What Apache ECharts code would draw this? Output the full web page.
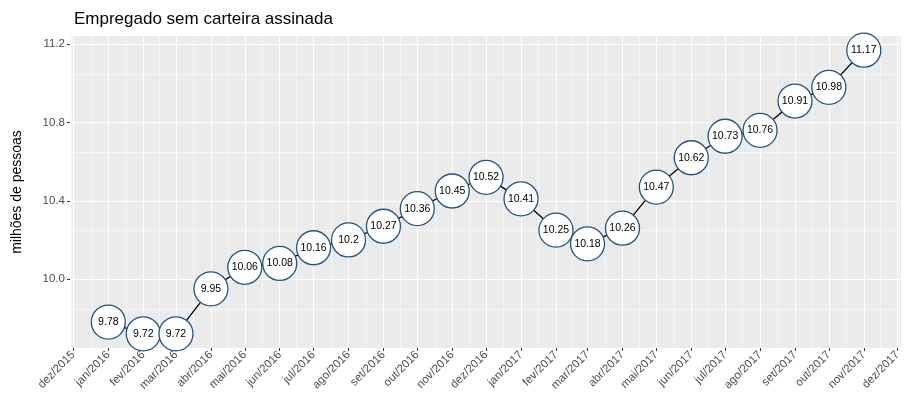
<!DOCTYPE html>
<html>
<head>
<meta charset="utf-8">
<script src="https://cdn.jsdelivr.net/npm/echarts@6/dist/echarts.min.js"></script>
<style>
  html, body { margin: 0; padding: 0; background: #fff; }
  #chart { width: 904px; height: 405px; }
</style>
</head>
<body>
<div id="chart"></div>
<script>
// ===== dados =====
const meses = ['2016-01-01', '2016-02-01', '2016-03-01', '2016-04-01', '2016-05-01', '2016-06-01',
  '2016-07-01', '2016-08-01', '2016-09-01', '2016-10-01', '2016-11-01', '2016-12-01',
  '2017-01-01', '2017-02-01', '2017-03-01', '2017-04-01', '2017-05-01', '2017-06-01',
  '2017-07-01', '2017-08-01', '2017-09-01', '2017-10-01', '2017-11-01'];
const valores = [9.78, 9.72, 9.72, 9.95, 10.06, 10.08, 10.16, 10.2, 10.27, 10.36, 10.45, 10.52,
  10.41, 10.25, 10.18, 10.26, 10.47, 10.62, 10.73, 10.76, 10.91, 10.98, 11.17];
const nomesMes = ['jan', 'fev', 'mar', 'abr', 'mai', 'jun', 'jul', 'ago', 'set', 'out', 'nov', 'dez'];
const yTicks = [10.0, 10.4, 10.8, 11.2];

const chart = echarts.init(document.getElementById('chart'));

const dia = 86400000;
const xMin = Date.UTC(2015, 11, 1) - 3 * dia;
const xMax = Date.UTC(2017, 11, 1) + 3 * dia;

chart.setOption({
  animation: false,
  backgroundColor: '#fff',
  title: {
    text: 'Empregado sem carteira assinada',
    left: 69, top: 6,
    textStyle: { fontFamily: 'Liberation Sans', fontSize: 17, fontWeight: 'normal', color: '#000' }
  },
  grid: { left: 70, right: 3, top: 36, bottom: 57, show: true, backgroundColor: '#EBEBEB', borderWidth: 0 },
  xAxis: {
    type: 'time',
    min: xMin,
    max: xMax,
    minInterval: 28 * dia,
    maxInterval: 31 * dia,
    axisLine: { show: false },
    axisTick: { show: true, length: 3, lineStyle: { color: '#333', width: 1 } },
    axisLabel: {
      rotate: 45,
      fontFamily: 'Liberation Sans',
      fontSize: 11.5,
      color: '#4D4D4D',
      margin: 5,
      hideOverlap: false,
      formatter: function (v) {
        const d = new Date(v);
        if (d.getUTCDate() !== 1) return '';
        return nomesMes[d.getUTCMonth()] + '/' + d.getUTCFullYear();
      }
    },
    splitLine: { show: true, lineStyle: { color: '#fff', width: 1.1 } },
    minorTick: { show: false, splitNumber: 2 },
    minorSplitLine: { show: true, lineStyle: { color: '#fff', width: 0.5 } }
  },
  yAxis: {
    type: 'value',
    min: 9.6475,
    max: 11.2425,
    interval: 0.4,
    name: 'milhões de pessoas',
    nameLocation: 'middle',
    nameGap: 46,
    nameTextStyle: { fontFamily: 'Liberation Sans', fontSize: 14, color: '#000' },
    axisLine: { show: false },
    axisTick: { show: true, length: 3, lineStyle: { color: '#333' },
      customValues: yTicks },
    axisLabel: {
      fontFamily: 'Liberation Sans', fontSize: 11.5, color: '#4D4D4D', margin: 5,
      customValues: yTicks,
      formatter: v => v.toFixed(1)
    },
    splitLine: { show: true, lineStyle: { color: '#fff', width: 1.1 } },
    minorTick: { show: false, splitNumber: 2 },
    minorSplitLine: { show: true, lineStyle: { color: '#fff', width: 0.5 } }
  },
  series: [{
    type: 'line',
    data: meses.map((m, i) => [m, valores[i]]),
    lineStyle: { color: '#000', width: 1.3 },
    symbol: 'circle',
    symbolSize: 34,
    clip: false,
    itemStyle: { color: '#fff', borderColor: '#25527F', borderWidth: 1.3 },
    label: {
      show: true,
      position: 'inside',
      fontFamily: 'Liberation Sans',
      fontSize: 10.5,
      color: '#000',
      formatter: p => String(p.value[1])
    },
    z: 3
  }]
});
</script>
</body>
</html>
